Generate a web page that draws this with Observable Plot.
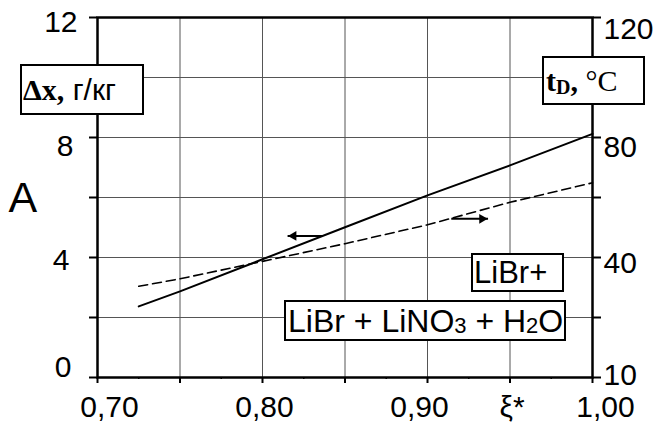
<!DOCTYPE html>
<html>
<head>
<meta charset="utf-8">
<script src="https://cdn.jsdelivr.net/npm/d3@7"></script>
<script src="https://cdn.jsdelivr.net/npm/@observablehq/plot@0.6"></script>
<style>
  html, body { margin: 0; padding: 0; background: #fff; }
  #wrap { position: relative; width: 656px; height: 430px; overflow: hidden; }
  #wrap svg { position: absolute; left: 0; top: 0; }
  .box { position: absolute; box-sizing: border-box; border: 2px solid #000; background: #fff;
         display: flex; align-items: center; white-space: nowrap; line-height: 1; color: #000;
         font-family: "Liberation Sans", Arial, sans-serif; font-size: 31px; }
  .serif { font-family: "Liberation Serif", "Times New Roman", serif; }
  sub { font-size: 22px; vertical-align: baseline; position: relative; top: 5px; }
</style>
</head>
<body>
<div id="wrap">
  <div class="box" style="left:20px;top:64px;width:124px;height:51px;padding-left:1px;font-size:30px;">
    <span class="serif" style="font-weight:bold;">Δx,</span>&nbsp;г/кг</div>
  <div class="box" style="left:542px;top:56px;width:103px;height:49px;padding-left:2px;">
    <span class="serif" style="font-weight:bold;font-size:30px;">t<sub style="font-size:20px;top:3px;">D</sub>,</span><span class="serif" style="font-size:30px;">&nbsp;°C</span></div>
  <div class="box" style="left:471px;top:253px;width:93px;height:39px;padding-left:1px;">LiBr+</div>
  <div class="box" style="left:284px;top:300px;width:282px;height:41px;padding-left:2px;font-size:32px;">
    LiBr + LiNO<sub>3</sub>&nbsp;+ H<sub>2</sub>O</div>
</div>
<script>
// ---- data ----
const xi     = [0.725, 0.75, 0.80, 0.85, 0.90, 0.95, 1.00];   // ξ*
const deltaX = [2.37, 2.87, 3.94, 5.01, 6.07, 7.07, 8.12];    // Δx, г/кг (left axis)
const tD     = [30.4, 32.9, 38.7, 44.6, 50.9, 58.4, 64.9];    // t_D, °C (right axis)

const xTickValues  = [0.70, 0.80, 0.90, 0.95, 1.00];
const xTickLabels  = ["0,70", "0,80", "0,90", "ξ*", "1,00"];
const xMajorTicks  = [0.70, 0.75, 0.80, 0.85, 0.90, 0.95, 1.00];
const xMinorTicks  = [0.725, 0.775, 0.825, 0.875, 0.925, 0.975];
const yGridValues  = [0, 2, 4, 6, 8, 10, 12];
const leftTickValues  = [0, 4, 8, 12];
const leftTickLabels  = ["0", "4", "8", "12"];
const rightTickValues = [0, 4, 8, 12];
const rightTickLabels = ["10", "40", "80", "120"];
const rightPerLeft = 10;           // right-axis units per left-axis unit (120 ↔ 12)

// direction arrows (left: Δx curve, right: t_D curve)
const arrowX1 = [0.8365, 0.9144];
const arrowX2 = [0.8152, 0.9367];
const arrowY  = [4.72, 5.29];

// ---- layout nudges (style only) ----
const xLabelDx = [12, 2, -8, 2, 13];
const leftLabelDx = [-2, -4, 0, 4];
const leftLabelDy = [-10, 3, 9, 5];
const rightLabelDy = [-2, 6, 10, 12];

const solid  = xi.map((x, i) => ({x, y: deltaX[i]}));
const dashed = xi.map((x, i) => ({x, y: tD[i] / rightPerLeft}));
const arrows = arrowX1.map((x1, i) => ({x1, x2: arrowX2[i], y: arrowY[i], rot: x1 > arrowX2[i] ? -90 : 90}));

const FS = 30;
const marks = [
  Plot.gridY(yGridValues, {stroke: "#555", strokeOpacity: 1, strokeWidth: 1}),
  Plot.gridX(xMajorTicks, {stroke: "#555", strokeOpacity: 1, strokeWidth: 1}),
  Plot.frame({stroke: "#000", strokeWidth: 2.5}),
  Plot.axisY(yGridValues, {anchor: "left", label: null, tickSize: 8, tickFormat: () => "", strokeWidth: 2}),
  Plot.axisY(yGridValues, {anchor: "right", label: null, tickSize: 8, tickFormat: () => "", strokeWidth: 2}),
  Plot.axisX(xMajorTicks, {anchor: "bottom", label: null, tickSize: 6, tickFormat: () => "", strokeWidth: 2}),
  Plot.axisX(xMinorTicks, {anchor: "bottom", label: null, tickSize: 2, tickFormat: () => "", strokeWidth: 1.5}),
  ...leftTickValues.map((v, i) => Plot.axisY([v], {
    anchor: "left", label: null, tickSize: 0, tickPadding: 24, fontSize: FS,
    tickFormat: () => leftTickLabels[i], dx: leftLabelDx[i], dy: leftLabelDy[i]})),
  ...rightTickValues.map((v, i) => Plot.axisY([v], {
    anchor: "right", label: null, tickSize: 0, tickPadding: 11, fontSize: FS,
    tickFormat: () => rightTickLabels[i], dy: rightLabelDy[i]})),
  ...xTickValues.map((v, i) => Plot.axisX([v], {
    anchor: "bottom", label: null, tickSize: 0, tickPadding: 18, fontSize: FS,
    tickFormat: () => xTickLabels[i], dx: xLabelDx[i]})),
  Plot.text(["A"], {frameAnchor: "left", dx: -89, dy: 1, fontSize: 43, textAnchor: "start", fill: "#000"}),
  Plot.line(dashed, {x: "x", y: "y", stroke: "#000", strokeWidth: 1.6, strokeDasharray: "9,5"}),
  Plot.line(solid, {x: "x", y: "y", stroke: "#000", strokeWidth: 2}),
  Plot.link(arrows, {x1: "x1", x2: "x2", y1: "y", y2: "y", stroke: "#000", strokeWidth: 2}),
  Plot.dot(arrows.filter(d => d.rot < 0), {x: "x2", y: "y", symbol: "triangle", r: 3.6, fill: "#000", stroke: "none", rotate: -90, dx: 6}),
  Plot.dot(arrows.filter(d => d.rot > 0), {x: "x2", y: "y", symbol: "triangle", r: 3.6, fill: "#000", stroke: "none", rotate: 90, dx: -6})
];

const chart = Plot.plot({
  width: 656,
  height: 430,
  marginLeft: 97,
  marginRight: 64,
  marginTop: 17,
  marginBottom: 53,
  x: {domain: [0.70, 1.00], label: null},
  y: {domain: [0, 12], label: null},
  style: {fontFamily: "'Liberation Sans', Arial, sans-serif", fontSize: "30px", color: "#000", background: "transparent", overflow: "visible"},
  marks
});
document.getElementById("wrap").prepend(chart);
</script>
</body>
</html>
